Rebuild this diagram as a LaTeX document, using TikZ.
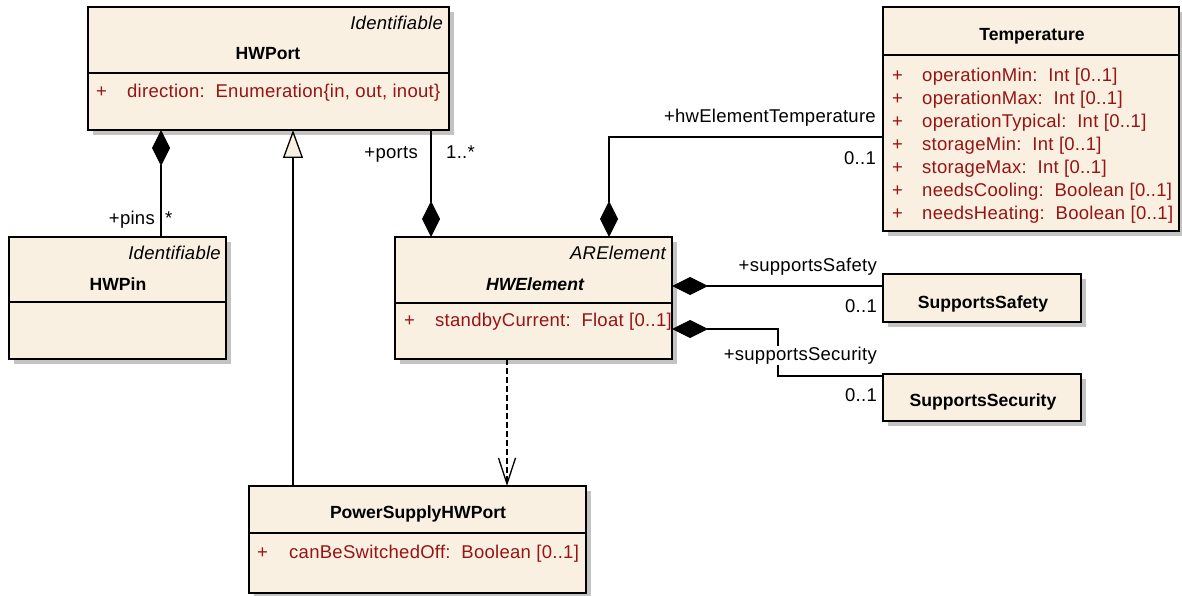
\documentclass[tikz,border=0pt]{standalone}
\usepackage{fontspec}
\setmainfont{Liberation Sans}
\usetikzlibrary{arrows.meta,shadows}
\definecolor{cream}{RGB}{250,240,226}
\definecolor{attr}{RGB}{150,20,20}
\definecolor{shade}{RGB}{195,195,195}
\begin{document}
\begin{tikzpicture}[x=1pt,y=-1pt,
  cls/.style={draw, line width=1.6pt, fill=cream, inner sep=0pt, outer sep=0pt,
    drop shadow={shadow xshift=5pt, shadow yshift=-5pt, fill=shade, opacity=1}},
  title/.style={font=\fontsize{17.6}{20}\selectfont\bfseries, inner sep=0pt, yshift=-2pt},
  txt/.style={font=\fontsize{18.5}{21}\selectfont\addfontfeature{LetterSpace=1.5}, inner sep=0pt, yshift=-4pt},
  attrtxt/.style={txt, text=attr},
  ster/.style={font=\fontsize{18.5}{21}\selectfont\itshape\addfontfeature{LetterSpace=1.5}, inner sep=0pt, yshift=-4pt},
  sepline/.style={line width=1.2pt},
  conn/.style={line width=1.3pt},
  comp/.style={conn, -{Diamond[length=36pt,width=18pt]}},
  gen/.style={conn, -{Triangle[open,length=28pt,width=20pt,fill=cream]}},
  dep/.style={conn, dash pattern=on 6pt off 3pt, -{Straight Barb[length=26pt,width=17pt]}}
]
\useasboundingbox (0,0) rectangle (1182,596);

% ---------- boxes ----------
\node[cls, minimum width=361pt, minimum height=123pt] (hwport) at (268.5,68.5) {};
\node[cls, minimum width=217pt, minimum height=122pt] (hwpin) at (117.5,298) {};
\node[cls, minimum width=277pt, minimum height=122pt] (hwel) at (533.5,298) {};
\node[cls, minimum width=296pt, minimum height=224pt] (temp) at (1031,119) {};
\node[cls, minimum width=198pt, minimum height=48pt] (safety) at (982,298) {};
\node[cls, minimum width=198pt, minimum height=47pt] (security) at (982,397.5) {};
\node[cls, minimum width=337pt, minimum height=107pt] (psp) at (417.5,539.5) {};

% separators
\draw[sepline] (hwport.west |- 0,73) -- (hwport.east |- 0,73);
\draw[sepline] (hwpin.west |- 0,302) -- (hwpin.east |- 0,302);
\draw[sepline] (hwel.west |- 0,303) -- (hwel.east |- 0,303);
\draw[sepline] (temp.west |- 0,55) -- (temp.east |- 0,55);
\draw[sepline] (psp.west |- 0,533) -- (psp.east |- 0,533);

% ---------- box texts ----------
\node[ster, anchor=mid east] (hwportst) at (443,23) {Identifiable};
\node[title] (hwportt) at (268,52) {HWPort};
\node[attrtxt, anchor=mid west] (hwportp) at (96,91) {+};
\node[attrtxt, anchor=mid west] (hwporta) at (127,91) {direction:\ \ Enumeration\{in, out, inout\}};

\node[ster, anchor=mid east] (hwpinst) at (221,253) {Identifiable};
\node[title] (hwpint) at (118,282) {HWPin};

\node[ster, anchor=mid east] (hwelst) at (666,253) {ARElement};
\node[title, font=\fontsize{17.6}{20}\selectfont\bfseries\itshape] (hwelt) at (535,282) {HWElement};
\node[attrtxt, anchor=mid west] (hwelp) at (404,320) {+};
\node[attrtxt, anchor=mid west] (hwela) at (435,320) {standbyCurrent:\ \ Float [0..1]};

\node[title] (tempt) at (1032,34) {Temperature};
\foreach \t [count=\i] in {operationMin:\ \ Int [0..1],
                           operationMax:\ \ Int [0..1],
                           operationTypical:\ \ Int [0..1],
                           storageMin:\ \ Int [0..1],
                           storageMax:\ \ Int [0..1],
                           needsCooling:\ \ Boolean [0..1],
                           needsHeating:\ \ Boolean [0..1]} {
  \node[attrtxt, anchor=mid west] (tempp\i) at (892,{75+22.9*(\i-1)}) {+};
  \node[attrtxt, anchor=mid west] (tempa\i) at (922,{75+22.9*(\i-1)}) {\t};
}

\node[title] (safetyt) at (983,302) {SupportsSafety};
\node[title] (securityt) at (983,400) {SupportsSecurity};

\node[title] (pspt) at (418,512) {PowerSupplyHWPort};
\node[attrtxt, anchor=mid west] (pspp) at (257,552) {+};
\node[attrtxt, anchor=mid west] (pspa) at (289,552) {canBeSwitchedOff:\ \ Boolean [0..1]};

% ---------- connectors ----------
\draw[comp] (161,0 |- hwpin.north) -- (161,0 |- hwport.south);
\draw[gen] (293,0 |- psp.north) -- (293,0 |- hwport.south);
\draw[comp] (431,0 |- hwport.south) -- (431,0 |- hwel.north);
\draw[comp] (temp.west |- 0,137) -- (609,137) -- (609,0 |- hwel.north);
\draw[comp] (safety.west |- 0,286) -- (hwel.east |- 0,286);
\draw[comp] (security.west |- 0,376) -- (778,376) -- (778,329) -- (hwel.east |- 0,329);
\draw[dep] (507,0 |- hwel.south) -- (507,0 |- psp.north);

% ---------- connector labels ----------
\node[txt, anchor=mid east] (pinsr) at (155,218) {+pins};
\node[txt, anchor=mid west] (pinsm) at (165,218) {*};
\node[txt, anchor=mid east] (portsr) at (418,152) {+ports};
\node[txt, anchor=mid west] (portsm) at (446,152) {1..*};
\node[txt, anchor=mid east] (tempr) at (876,116) {+hwElementTemperature};
\node[txt, anchor=mid east] (tempm) at (876,158) {0..1};
\node[txt, anchor=mid east] (safr) at (877,265) {+supportsSafety};
\node[txt, anchor=mid east] (safm) at (877,306) {0..1};
\node[txt, anchor=mid east, fill=white, inner sep=1pt] (secr) at (878,354) {+supportsSecurity};
\node[txt, anchor=mid east] (secm) at (877,395) {0..1};
\end{tikzpicture}
\end{document}
